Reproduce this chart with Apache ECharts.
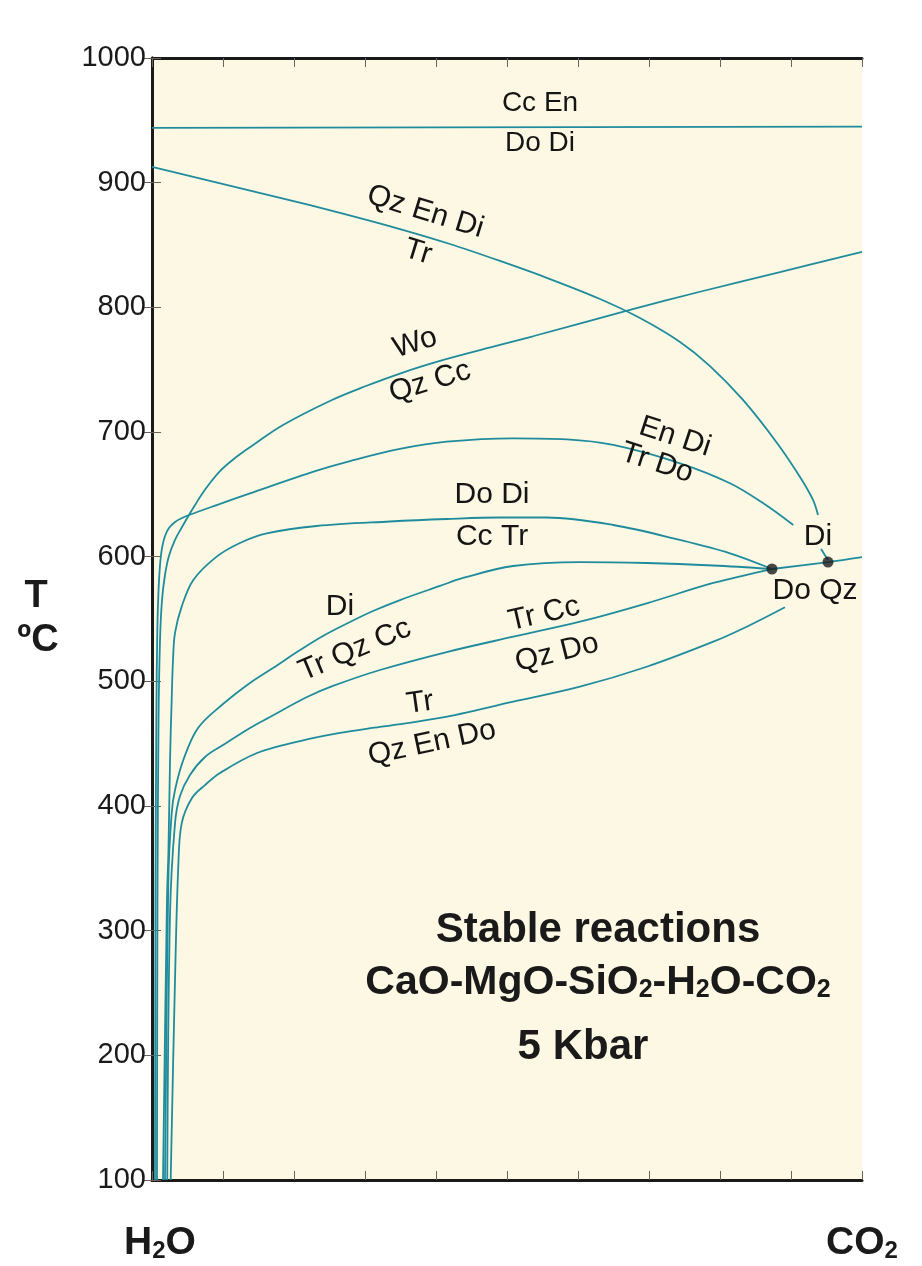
<!DOCTYPE html>
<html>
<head>
<meta charset="utf-8">
<script src="https://cdn.jsdelivr.net/npm/echarts@6/dist/echarts.min.js"></script>
<style>
html,body{margin:0;padding:0;background:#ffffff;}
#c{width:922px;height:1266px;}
</style>
</head>
<body>
<div id="c"></div>
<script>
// ---- data (X = mole fraction CO2, T = temperature in °C) ----
const yTicks = [100, 200, 300, 400, 500, 600, 700, 800, 900, 1000];

const curveCcEn = [[0, 944], [1, 945]];

const curveQzEnDi = [[0, 912.6], [0.1746, 888.7], [0.2648, 875.8], [0.3493, 862.8], [0.4197, 850.8],
  [0.4901, 837.2], [0.5606, 822.7], [0.6310, 806.7], [0.6873, 791.4], [0.7437, 772.2],
  [0.7859, 752.9], [0.8324, 725.7], [0.8803, 691.2], [0.9127, 663.9], [0.9310, 645.5], [0.9380, 633.4]];
const curveQzEnDiArrow = [[0.9423, 606.2], [0.9521, 597.3]];

const curveWo = [[0.0070, 100], [0.0077, 324.6], [0.0092, 469.0], [0.0113, 533.2], [0.0141, 565.2],
  [0.0183, 585.3], [0.0239, 600.5], [0.0324, 613.4], [0.0423, 623.8], [0.0521, 633.4],
  [0.0606, 641.4], [0.0704, 650.3], [0.0817, 659.1], [0.0958, 668.7], [0.1169, 679.1],
  [0.1380, 687.8], [0.1845, 705.6], [0.2535, 725.7], [0.3014, 736.9], [0.3493, 746.9],
  [0.4056, 757.0], [0.4901, 769.8], [0.5366, 776.8], [0.6732, 797.9], [0.7718, 812.5],
  [0.8845, 828.3], [1, 844.4]];

const curveEnDi = [[0.0042, 100], [0.0049, 324.6], [0.0061, 469.0], [0.0075, 541.2], [0.0092, 573.3],
  [0.0113, 593.3], [0.0141, 606.9], [0.0183, 616.6], [0.0239, 623.0], [0.0324, 627.8],
  [0.0423, 631.0], [0.0521, 633.4], [0.0911, 641.4], [0.1380, 650.8], [0.2320, 669.0],
  [0.2789, 676.7], [0.3493, 686.4], [0.4151, 692.2], [0.5089, 694.9], [0.5841, 694.1],
  [0.6497, 689.6], [0.7437, 674.9], [0.8141, 658.9], [0.8610, 642.8], [0.9032, 625.4]];

const curveDoDi = [[0.0155, 100], [0.0211, 324.6], [0.0232, 364.7], [0.0254, 436.9], [0.0277, 485.0],
  [0.0296, 517.1], [0.0324, 538.8], [0.0418, 559.9], [0.0582, 581.3], [0.0911, 600.0],
  [0.1239, 611.0], [0.1615, 618.7], [0.2320, 624.6], [0.3352, 628.2], [0.4151, 630.2],
  [0.4901, 631.4], [0.5559, 631.4], [0.6497, 625.4], [0.7437, 613.4], [0.8141, 602.7],
  [0.8732, 590.1]];

const curveDi = [[0.0183, 100], [0.0230, 340.6], [0.0277, 394.1], [0.0324, 412.8], [0.0441, 436.9],
  [0.0648, 462.6], [0.1000, 481.8], [0.1380, 498.7], [0.1704, 510.7], [0.2085, 525.1],
  [0.2408, 536.4], [0.2789, 547.6], [0.3113, 556.4], [0.3493, 565.2], [0.4056, 576.5],
  [0.4380, 582.9], [0.5085, 592.5], [0.6028, 595.7], [0.6968, 594.9], [0.7901, 592.9],
  [0.8732, 590.1]];

const curveTrCc = [[0.0215, 100], [0.0254, 313.9], [0.0324, 386.1], [0.0394, 408.0], [0.0535, 424.9],
  [0.0746, 439.3], [0.1000, 448.9], [0.1380, 462.6], [0.1662, 471.4], [0.2183, 487.4],
  [0.2549, 496.3], [0.3211, 509.1], [0.4151, 523.5], [0.5089, 535.8], [0.6028, 547.8],
  [0.6968, 562.6], [0.7906, 578.9], [0.8732, 590.1]];

const curveTr = [[0.0263, 100], [0.0324, 260.4], [0.0370, 351.3], [0.0418, 386.1], [0.0563, 406.4],
  [0.0746, 416.8], [0.0958, 426.5], [0.1479, 442.5], [0.2085, 452.1], [0.2648, 458.6],
  [0.3211, 463.4], [0.4056, 470.6], [0.5089, 483.7], [0.6028, 495.7], [0.6968, 511.7],
  [0.7906, 531.8], [0.8376, 543.8], [0.8915, 559.4]];

const curveDiDoQz = [[0.8732, 590.1], [0.9521, 595.7], [1, 599.7]];

const invariantPoints = [[0.8732, 590.1], [0.9521, 595.7]];

// reaction labels: [text, X, T, rotation in degrees (ccw positive)]
const reactionLabels = [
  ['Cc En', 0.5465, 963.9, 0],
  ['Do Di', 0.5465, 931.8, 0],
  ['Qz En Di', 0.3850, 876.5, -17],
  ['Tr', 0.3746, 844.4, -17],
  ['Wo', 0.3704, 771.4, 17],
  ['Qz Cc', 0.3915, 740.1, 17],
  ['En Di', 0.7366, 696.0, -18],
  ['Tr Do', 0.7113, 675.1, -18],
  ['Do Di', 0.4789, 649.5, 0],
  ['Cc Tr', 0.4789, 615.8, 0],
  ['Di', 0.9380, 615.8, 0],
  ['Do Qz', 0.9338, 572.5, 0],
  ['Di', 0.2648, 559.6, 0],
  ['Tr Qz Cc', 0.2859, 525.1, 23],
  ['Tr Cc', 0.5521, 554.0, 13],
  ['Qz Do', 0.5704, 522.7, 14],
  ['Tr', 0.3775, 482.6, 8],
  ['Qz En Do', 0.3944, 450.5, 12]
];

// ---- chart ----
const teal = '#1f8c9e';
const font = '"Liberation Sans", Arial, sans-serif';
const chart = echarts.init(document.getElementById('c'), null, {renderer: 'canvas'});

function lineSeries(data) {
  return {
    type: 'line', data: data, showSymbol: false, smooth: 0.35, silent: true,
    lineStyle: {color: teal, width: 1.8}, z: 3
  };
}

const tickStyle = {show: true, inside: true, length: 9, lineStyle: {color: '#6b6358', width: 1}};
const axisLineStyle = {show: true, lineStyle: {color: '#1a1a1a', width: 3}};

chart.setOption({
  animation: false,
  backgroundColor: '#ffffff',
  grid: {left: 152, right: 60, top: 58, bottom: 86, show: true, backgroundColor: '#fdf8e3', borderWidth: 0},
  xAxis: [
    {type: 'value', min: 0, max: 1, interval: 0.1, position: 'bottom',
      axisLine: axisLineStyle, axisTick: tickStyle, axisLabel: {show: false}, splitLine: {show: false}},
    {type: 'value', min: 0, max: 1, interval: 0.1, position: 'top',
      axisLine: axisLineStyle, axisTick: tickStyle, axisLabel: {show: false}, splitLine: {show: false}}
  ],
  yAxis: [
    {type: 'value', min: yTicks[0], max: yTicks[yTicks.length - 1], interval: 100, position: 'left',
      axisLine: axisLineStyle, axisTick: tickStyle, splitLine: {show: false},
      axisLabel: {show: true, fontSize: 29, color: '#1a1a1a', fontFamily: font, margin: 6,
        formatter: function (v) { return String(v); }}},
    {type: 'value', min: yTicks[0], max: yTicks[yTicks.length - 1], interval: 100, position: 'right',
      axisLine: axisLineStyle, axisTick: tickStyle, axisLabel: {show: false}, splitLine: {show: false}}
  ],
  series: [
    lineSeries(curveCcEn),
    lineSeries(curveQzEnDi),
    lineSeries(curveQzEnDiArrow),
    lineSeries(curveWo),
    lineSeries(curveEnDi),
    lineSeries(curveDoDi),
    lineSeries(curveDi),
    lineSeries(curveTrCc),
    lineSeries(curveTr),
    lineSeries(curveDiDoQz),
    {type: 'scatter', data: invariantPoints, symbolSize: 11, itemStyle: {color: '#1a1a1a'}, z: 5, silent: true}
  ]
});

// ---- text annotations ----
const graphics = [];
reactionLabels.forEach(function (l, i) {
  const p = chart.convertToPixel({gridIndex: 0}, [l[1], l[2]]);
  graphics.push({
    type: 'text', x: p[0], y: p[1], rotation: l[3] * Math.PI / 180, z: 10,
    style: {text: l[0], fontSize: i < 2 ? 28 : 30, fontFamily: font, fill: '#151515', align: 'center', verticalAlign: 'middle'}
  });
});

function richStyle(text, size, subSize) {
  return {
    text: text, align: 'center', verticalAlign: 'middle',
    rich: {
      a: {fontSize: size, fontWeight: 'bold', fontFamily: font, fill: '#1a1a1a', lineHeight: 46, verticalAlign: 'bottom'},
      s: {fontSize: subSize, fontWeight: 'bold', fontFamily: font, fill: '#1a1a1a', lineHeight: 18, verticalAlign: 'bottom'}
    }
  };
}

function addTitle(text, X, T, size, rich) {
  const p = chart.convertToPixel({gridIndex: 0}, [X, T]);
  graphics.push({
    type: 'text', x: p[0], y: p[1], z: 10,
    style: rich ? richStyle(text, size, 25) :
      {text: text, fontSize: size, fontWeight: 'bold', fontFamily: font, fill: '#1a1a1a', align: 'center', verticalAlign: 'middle'}
  });
}
addTitle('Stable reactions', 0.6282, 300.5, 42, false);
addTitle('{a|CaO-MgO-SiO}{s|2}{a|-H}{s|2}{a|O-CO}{s|2}', 0.6282, 260.5, 41, true);
addTitle('5 Kbar', 0.6070, 206.5, 42, false);

graphics.push({type: 'text', x: 160, y: 1240, z: 10, style: richStyle('{a|H}{s|2}{a|O}', 39, 24)});
graphics.push({type: 'text', x: 862, y: 1240, z: 10, style: richStyle('{a|CO}{s|2}', 39, 24)});
graphics.push({type: 'text', x: 36, y: 597, z: 10,
  style: {text: 'T', fontSize: 38, fontWeight: 'bold', fontFamily: font, fill: '#1a1a1a', align: 'center', verticalAlign: 'middle'}});
graphics.push({type: 'text', x: 38, y: 641, z: 10,
  style: {text: '\u00baC', fontSize: 38, fontWeight: 'bold', fontFamily: font, fill: '#1a1a1a', align: 'center', verticalAlign: 'middle'}});

chart.setOption({graphic: graphics});
</script>
</body>
</html>
